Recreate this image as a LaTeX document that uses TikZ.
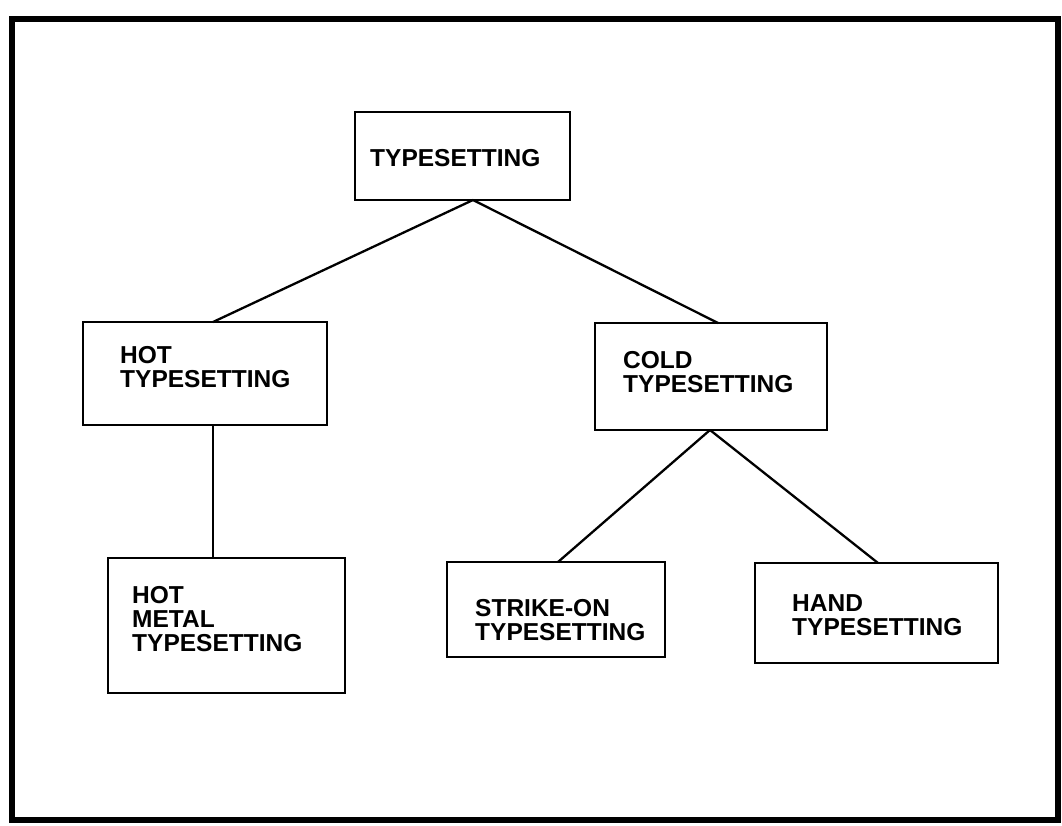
\documentclass[tikz,border=0pt]{standalone}
\usepackage{fontspec}
\setmainfont{Liberation Sans}
\begin{document}
\begin{tikzpicture}[x=1pt,y=-1pt,
  box/.style={draw=black, line width=2.6pt, fill=white, inner sep=0pt, outer sep=0pt},
  lbl/.style={anchor=north west, inner sep=0pt, align=left,
              font=\fontsize{24.5}{24}\selectfont\bfseries},
  link/.style={draw=black, line width=2.3pt}]
  \useasboundingbox (0,0) rectangle (1062,825);
  % outer frame
  \draw[line width=6pt] (12,19) rectangle (1058,820);

  % boxes
  \node[box, minimum width=215pt, minimum height=88pt]  (top)    at (462.5,156) {};
  \node[box, minimum width=244pt, minimum height=103pt] (hot)    at (205,373.5) {};
  \node[box, minimum width=232pt, minimum height=107pt] (cold)   at (711,376.5) {};
  \node[box, minimum width=237pt, minimum height=135pt] (metal)  at (226.5,625.5) {};
  \node[box, minimum width=218pt, minimum height=95pt]  (strike) at (556,609.5) {};
  \node[box, minimum width=243pt, minimum height=100pt] (hand)   at (876.5,613) {};

  % labels
  \node[lbl] (top-t)    at (370,149) {TYPESETTING};
  \node[lbl] (hot-t)    at (120,346) {HOT\\TYPESETTING};
  \node[lbl] (cold-t)   at (623,351) {COLD\\TYPESETTING};
  \node[lbl] (metal-t)  at (132,586) {HOT\\METAL\\TYPESETTING};
  \node[lbl] (strike-t) at (475,599) {STRIKE-ON\\TYPESETTING};
  \node[lbl] (hand-t)   at (792,594) {HAND\\TYPESETTING};

  % tree connectors
  \draw[link] ([xshift=10.5pt]top.south) -- ([xshift=8pt]hot.north);
  \draw[link] ([xshift=10.5pt]top.south) -- ([xshift=7pt]cold.north);
  \draw[link] ([xshift=8pt]hot.south) -- ([xshift=-13.5pt]metal.north);
  \draw[link] ([xshift=-1pt]cold.south) -- ([xshift=2pt]strike.north);
  \draw[link] ([xshift=-1pt]cold.south) -- ([xshift=1.5pt]hand.north);
\end{tikzpicture}
\end{document}
